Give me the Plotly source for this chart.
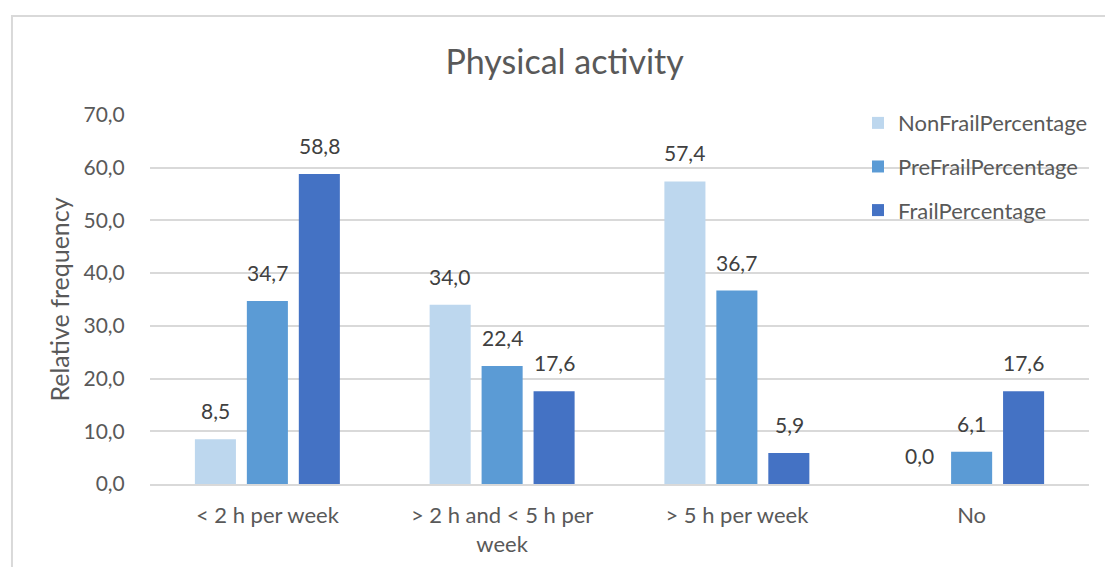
import plotly.graph_objects as go

categories = ["< 2 h per week", "> 2 h and < 5 h per<br>week", "> 5 h per week", "No"]
non_frail = [8.5, 34.0, 57.4, 0.0]
pre_frail = [34.7, 22.4, 36.7, 6.1]
frail = [58.8, 17.6, 5.9, 17.6]

series = [
    ("NonFrailPercentage", non_frail, "#BDD7EE"),
    ("PreFrailPercentage", pre_frail, "#5B9BD5"),
    ("FrailPercentage", frail, "#4472C4"),
]

FONT = "Lato"
AXIS_GREY = "#595959"
LABEL_GREY = "#404040"
GRID = "#D9D9D9"

MARGIN_L, MARGIN_R = 150, 12

# plot-area geometry used to place value labels over each bar of a group
PLOT_W = 1105 - MARGIN_L - MARGIN_R
BARGAP = 0.336
slot = PLOT_W / len(categories) * (1 - BARGAP) / len(series)

fig = go.Figure()
for i, (name, vals, color) in enumerate(series):
    fig.add_trace(go.Bar(
        name=name,
        x=categories,
        y=vals,
        marker=dict(color=color, line=dict(width=0)),
        legendgroup=name,
    ))
    offset = (i - (len(series) - 1) / 2) * slot
    for cat, v in zip(categories, vals):
        fig.add_annotation(
            x=cat, y=v, xref="x", yref="y",
            text=f"{v:.1f}".replace(".", ","),
            showarrow=False,
            xshift=offset, yshift=14,
            xanchor="center", yanchor="bottom",
            font=dict(family=FONT, size=21, color=LABEL_GREY),
        )

fig.update_layout(
    width=1105,
    height=567,
    margin=dict(l=MARGIN_L, r=MARGIN_R, t=115, b=83),
    paper_bgcolor="white",
    plot_bgcolor="white",
    separators=", ",
    barmode="group",
    bargap=BARGAP,
    bargroupgap=0.21,
    font=dict(family=FONT, color=AXIS_GREY),
    title=dict(
        text="Physical activity",
        x=0.511, xanchor="center",
        y=0.89, yanchor="middle",
        font=dict(family=FONT, size=34, color=AXIS_GREY),
    ),
    legend=dict(
        x=0.754, xanchor="left",
        y=1.035, yanchor="top",
        bgcolor="rgba(0,0,0,0)",
        font=dict(family=FONT, size=22, color=AXIS_GREY),
        tracegroupgap=12,
        traceorder="grouped",
    ),
    showlegend=True,
)

fig.update_yaxes(
    range=[0, 70],
    dtick=10,
    tickformat=".1f",
    showgrid=True,
    gridcolor=GRID,
    gridwidth=1.5,
    zeroline=False,
    automargin=False,
    ticks="outside",
    ticklen=20,
    tickcolor="rgba(0,0,0,0)",
    tickfont=dict(family=FONT, size=21, color=AXIS_GREY),
    title=dict(text="Relative frequency", font=dict(family=FONT, size=25, color=AXIS_GREY), standoff=6),
)

fig.update_xaxes(
    showline=True,
    linecolor=GRID,
    linewidth=2,
    automargin=False,
    ticks="outside",
    ticklen=11,
    tickcolor="rgba(0,0,0,0)",
    tickfont=dict(family=FONT, size=22, color=AXIS_GREY),
)

# outer chart frame
fig.add_shape(
    type="rect",
    xref="paper", yref="paper",
    x0=-0.147, x1=1.06, y0=-0.3, y1=1.268,
    line=dict(color=GRID, width=2),
    fillcolor="rgba(0,0,0,0)",
    layer="below",
)

fig.write_html("out.html")
